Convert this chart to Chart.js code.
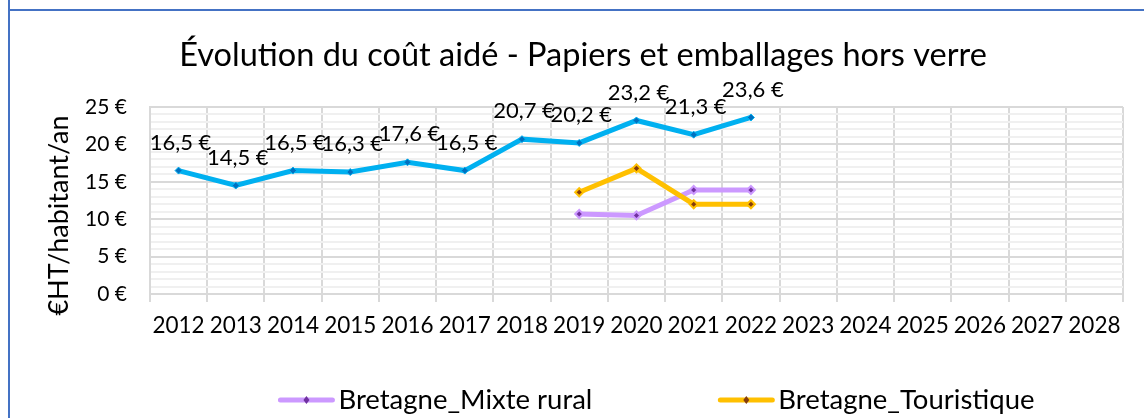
<!DOCTYPE html>
<html lang="fr">
<head>
<meta charset="utf-8">
<title>Évolution du coût aidé</title>
<script src="https://cdn.jsdelivr.net/npm/chart.js@4/dist/chart.umd.min.js"></script>
<style>
  html, body { margin: 0; padding: 0; background: #fff; }
  #cadre { position: relative; width: 1144px; height: 418px; overflow: hidden; }
  #trait-haut { position: absolute; left: 8px; right: 0; top: 9px; height: 2px; background: #4472C4; }
  #trait-gauche { position: absolute; left: 8px; top: 0; bottom: 0; width: 2px; background: #4472C4; }
  canvas { position: absolute; left: 0; top: 0; }
</style>
</head>
<body>
<div id="cadre">
  <canvas id="graphique" width="1144" height="418"></canvas>
  <div id="trait-haut"></div>
  <div id="trait-gauche"></div>
</div>
<script>
// données du graphique
var annees = ['2012', '2013', '2014', '2015', '2016', '2017', '2018', '2019', '2020', '2021', '2022',
              '2023', '2024', '2025', '2026', '2027', '2028'];
var coutBretagne = [16.5, 14.5, 16.5, 16.3, 17.6, 16.5, 20.7, 20.2, 23.2, 21.3, 23.6,
                    null, null, null, null, null, null];
var coutMixteRural = [null, null, null, null, null, null, null, 10.7, 10.5, 13.9, 13.9,
                      null, null, null, null, null, null];
var coutTouristique = [null, null, null, null, null, null, null, 13.6, 16.8, 12.0, 12.0,
                       null, null, null, null, null, null];
var nomsSeries = ['Bretagne', 'Bretagne_Mixte rural', 'Bretagne_Touristique'];
var graduationsY = [0, 5, 10, 15, 20, 25];
var titreAxeY = '€HT/habitant/an';

var police = 'Lato';

function formatEuro(v) {
    return v.toFixed(1).replace('.', ',') + ' €';
}

// étiquettes de valeurs au-dessus de la courbe bleue
var etiquettesPlugin = {
    id: 'etiquettes',
    afterDatasetsDraw: function(chart) {
        var ctx = chart.ctx;
        var meta = chart.getDatasetMeta(0);
        var valeurs = chart.data.datasets[0].data;
        ctx.save();
        ctx.font = '22px ' + police;
        ctx.fillStyle = '#000';
        ctx.textAlign = 'center';
        ctx.textBaseline = 'middle';
        meta.data.forEach(function(pt, i) {
            if (valeurs[i] === null) return;
            ctx.fillText(formatEuro(valeurs[i]), pt.x + 2, pt.y - 28);
        });
        ctx.restore();
    }
};

// titre vertical de l'axe Y (un peu plus bas que le centre, comme dans Excel)
var titreYPlugin = {
    id: 'titreY',
    afterDraw: function(chart) {
        var ctx = chart.ctx;
        var zone = chart.chartArea;
        ctx.save();
        ctx.translate(zone.left - 91, (zone.top + zone.bottom) / 2 + 15);
        ctx.rotate(-Math.PI / 2);
        ctx.font = '27px ' + police;
        ctx.fillStyle = '#000';
        ctx.textAlign = 'center';
        ctx.textBaseline = 'middle';
        ctx.fillText(titreAxeY, 0, 0);
        ctx.restore();
    }
};

// légende en bas (seulement les deux séries Bretagne_*)
var legendePlugin = {
    id: 'legendeBas',
    afterDraw: function(chart) {
        var ctx = chart.ctx;
        var items = chart.data.datasets.filter(function(d) { return d.enLegende; });
        var largeurTrait = 56, ecart = 4, espace = 126;
        ctx.save();
        ctx.font = '27.5px ' + police;
        var largeurs = items.map(function(d) { return largeurTrait + ecart + ctx.measureText(d.label).width; });
        var total = largeurs.reduce(function(a, b) { return a + b; }, 0) + espace * (items.length - 1);
        var x = (chart.chartArea.left + chart.chartArea.right) / 2 + 20 - total / 2;
        var y = chart.height - 18;
        items.forEach(function(d, i) {
            ctx.strokeStyle = d.borderColor;
            ctx.lineWidth = 5;
            ctx.lineCap = 'round';
            ctx.beginPath();
            ctx.moveTo(x + 2, y);
            ctx.lineTo(x + largeurTrait - 2, y);
            ctx.stroke();
            var cx = x + largeurTrait / 2;
            ctx.fillStyle = d.pointBackgroundColor;
            ctx.beginPath();
            ctx.moveTo(cx, y - 4); ctx.lineTo(cx + 3, y); ctx.lineTo(cx, y + 4); ctx.lineTo(cx - 3, y);
            ctx.closePath();
            ctx.fill();
            ctx.fillStyle = '#000';
            ctx.textAlign = 'left';
            ctx.textBaseline = 'middle';
            ctx.fillText(d.label, x + largeurTrait + ecart, y);
            x += largeurs[i] + espace;
        });
        ctx.restore();
    }
};

document.addEventListener("DOMContentLoaded", function() {
    var donnees = {
        labels: annees,
        datasets: [{
            label: nomsSeries[0],
            data: coutBretagne,
            borderColor: '#00B0F0',
            borderWidth: 5,
            pointStyle: 'rectRot',
            pointRadius: 3.5,
            pointBackgroundColor: '#0070C0',
            pointBorderColor: '#00B0F0',
            pointBorderWidth: 1,
            order: 2,
            enLegende: false
        }, {
            label: nomsSeries[1],
            data: coutMixteRural,
            borderColor: '#CC99FF',
            borderWidth: 5,
            pointStyle: 'rectRot',
            pointRadius: 4,
            pointBackgroundColor: '#7030A0',
            pointBorderColor: '#CC99FF',
            pointBorderWidth: 2,
            order: 1,
            enLegende: true
        }, {
            label: nomsSeries[2],
            data: coutTouristique,
            borderColor: '#FFC000',
            borderWidth: 5,
            pointStyle: 'rectRot',
            pointRadius: 4,
            pointBackgroundColor: '#843C0C',
            pointBorderColor: '#FFC000',
            pointBorderWidth: 2,
            order: 0,
            enLegende: true
        }]
    };

    var config = {
        type: 'line',
        data: donnees,
        plugins: [etiquettesPlugin, titreYPlugin, legendePlugin],
        options: {
            responsive: false,
            animation: false,
            spanGaps: false,
            layout: { padding: { left: 43, right: 21, top: 0, bottom: 69 } },
            plugins: {
                legend: { display: false },
                tooltip: { enabled: false },
                title: {
                    display: true,
                    text: 'Évolution du coût aidé - Papiers et emballages hors verre',
                    color: '#000',
                    font: { family: police, size: 32.5, weight: 'normal' },
                    padding: { top: 36, bottom: 32 }
                }
            },
            scales: {
                x: {
                    offset: true,
                    grid: { offset: true, color: '#D9D9D9', lineWidth: 2, tickLength: 8, tickColor: '#D9D9D9' },
                    border: { color: '#D9D9D9', width: 2 },
                    ticks: { color: '#000', font: { family: police, size: 22.5 }, padding: 10, maxRotation: 0, autoSkip: false }
                },
                y: {
                    min: 0,
                    max: 25,
                    // place laissée pour le titre vertical dessiné à part
                    afterFit: function(scale) {
                        scale.width = scale.width + 19;
                    },
                    grid: {
                        drawTicks: false,
                        lineWidth: 2,
                        color: function(c) {
                            return graduationsY.indexOf(c.tick.value) >= 0 ? '#D9D9D9' : '#F0F0F0';
                        }
                    },
                    border: { color: '#D9D9D9', width: 2 },
                    ticks: {
                        stepSize: 1,
                        autoSkip: false,
                        color: '#000',
                        padding: 23,
                        font: { family: police, size: 21 },
                        callback: function(v) {
                            return graduationsY.indexOf(v) >= 0 ? v + ' €' : '';
                        }
                    }
                }
            }
        }
    };

    new Chart(document.getElementById('graphique').getContext('2d'), config);
});
</script>
</body>
</html>
